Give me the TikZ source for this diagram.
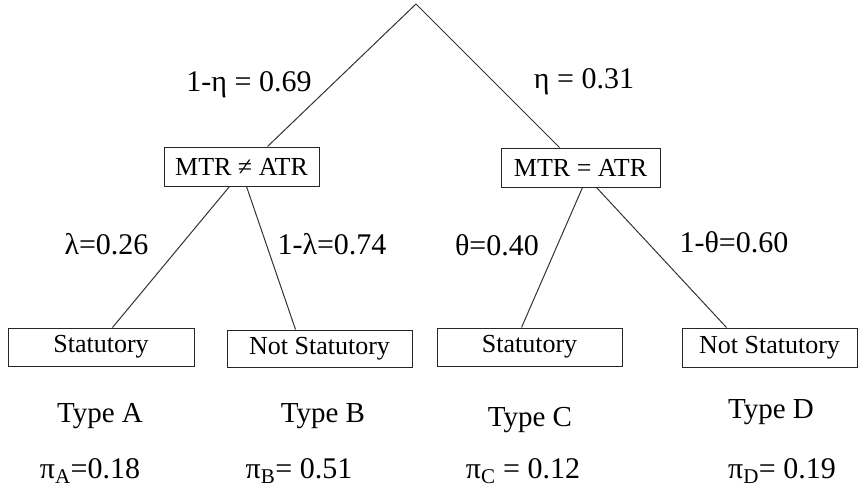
\documentclass[tikz,border=0pt]{standalone}
\usepackage{fontspec}
\setmainfont{Liberation Serif}
\usetikzlibrary{calc}
\begin{document}
\begin{tikzpicture}[x=1pt,y=-1pt,
  edge/.style={line width=1pt, draw=black!80},
  box/.style={draw=black!85, line width=1pt, rectangle, inner sep=0pt, font=\fontsize{26}{30}\selectfont},
  lab/.style={font=\fontsize{30}{34}\selectfont, anchor=base, inner sep=0pt},
  typ/.style={font=\fontsize{29}{33}\selectfont, anchor=base, inner sep=0pt}]
\useasboundingbox (0,0) rectangle (858,492);
\coordinate (top) at (416,4);
\node[box, minimum width=155pt, minimum height=39pt] (m1) at (241.5,166.5) {MTR ≠ ATR};
\node[box, minimum width=159pt, minimum height=39pt] (m2) at (580.5,167.5) {MTR = ATR};
\node[box, minimum width=186pt, minimum height=38pt] (s1) at (101,347) {Statutory};
\node[box, minimum width=185pt, minimum height=37pt] (s2) at (319.5,348.5) {Not Statutory};
\node[box, minimum width=185pt, minimum height=38pt] (s3) at (529.5,347) {Statutory};
\node[box, minimum width=175pt, minimum height=39pt] (s4) at (769.5,347.5) {Not Statutory};
\draw[edge] ($(m1.north west)+(104,0)$) -- (top) -- ($(m2.north west)+(59,0)$);
\draw[edge] ($(m1.south west)+(66,0)$) -- ($(s1.north west)+(105,0)$);
\draw[edge] ($(m1.south west)+(83,0)$) -- ($(s2.north west)+(69,0)$);
\draw[edge] ($(m2.south west)+(82,0)$) -- ($(s3.north west)+(85,0)$);
\draw[edge] ($(m2.south west)+(96,0)$) -- ($(s4.north west)+(45,0)$);
\node[lab] (l1) at (249,92) {1-η = 0.69};
\node[lab] (l2) at (584,89) {η = 0.31};
\node[lab] (l3) at (106.5,254) {λ=0.26};
\node[lab] (l4) at (332,254) {1-λ=0.74};
\node[lab] (l5) at (497,255) {θ=0.40};
\node[lab] (l6) at (734,252) {1-θ=0.60};
\node[typ] (ta) at (100,422) {Type A};
\node[typ] (tb) at (323,422) {Type B};
\node[typ] (tc) at (530,426) {Type C};
\node[typ] (td) at (771,418) {Type D};
\node[lab] (pa) at (90,478) {π\textsubscript{A}=0.18};
\node[lab] (pb) at (299,478) {π\textsubscript{B}= 0.51};
\node[lab] (pc) at (523,478) {π\textsubscript{C} = 0.12};
\node[lab] (pd) at (782,478) {π\textsubscript{D}= 0.19};
\end{tikzpicture}
\end{document}
